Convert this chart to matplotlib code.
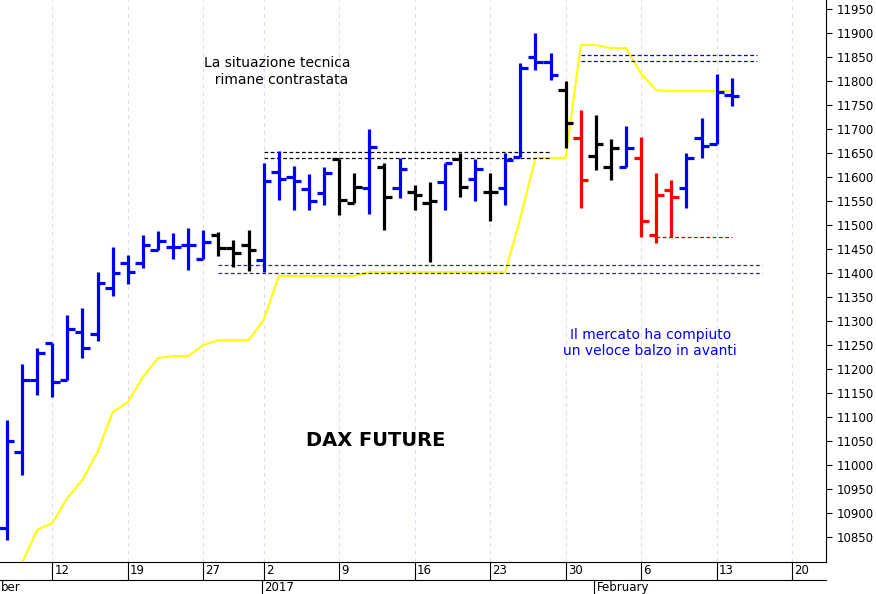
import matplotlib
matplotlib.use("Agg")
import matplotlib.pyplot as plt

opens  = [10869,11027,11177,11254,11177,11277,11273,11369,11421,11421,11448,11454,11458,11429,11479,11452,11458,
          11427,11610,11600,11575,11567,11637,11546,11577,11621,11577,11569,11546,11590,11637,11596,11569,11577,
          11642,11850,11840,11781,11681,11644,11621,11621,11640,11479,11573,11577,11681,11669,11771]
highs  = [11094,11210,11244,11254,11312,11327,11402,11454,11437,11479,11487,11483,11494,11490,11485,11469,11490,
          11629,11654,11623,11606,11621,11637,11608,11700,11629,11640,11583,11590,11629,11650,11637,11608,11650,
          11837,11900,11858,11800,11740,11729,11679,11706,11683,11608,11594,11650,11723,11815,11806]
lows   = [10844,10979,11146,11142,11177,11223,11258,11352,11377,11410,11448,11429,11406,11429,11435,11412,11404,
          11402,11552,11531,11531,11542,11521,11546,11523,11490,11556,11531,11423,11531,11558,11550,11508,11542,
          11642,11823,11802,11660,11535,11615,11594,11621,11475,11462,11475,11535,11640,11669,11748]
closes = [11050,11177,11233,11173,11283,11244,11379,11400,11402,11458,11467,11454,11458,11465,11452,11442,11448,
          11592,11596,11592,11550,11608,11552,11579,11662,11558,11617,11562,11550,11629,11579,11617,11569,11635,
          11827,11840,11812,11712,11594,11669,11660,11660,11508,11562,11558,11640,11665,11777,11769]
signal = list("bbbbbbbbbbbbbb" + "kkk" + "bbbbb" + "kk" + "b" + "k" + "b" + "kk" + "b" + "k" + "b" + "k" +
              "bbbb" + "k" + "r" + "kk" + "b" + "rrr" + "bbbb")
stop_idx = list(range(1, 49))
stop_val = [10796,10865,10879,10931,10969,11027,11110,11131,11183,11223,11227,11227,11250,11260,11260,11260,
            11302,11394,11394,11394,11394,11394,11394,11402,11402,11402,11402,11402,11402,11402,11402,11402,
            11402,11515,11640,11640,11640,11875,11875,11869,11869,11815,11781,11779,11779,11779,11779,11779]
tick_idx = [3, 8, 13, 17, 22, 27, 32, 37, 42, 47, 52]
tick_lab = ["12", "19", "27", "2", "9", "16", "23", "30", "6", "13", "20"]
month_idx = [-0.46, 17, 39]
month_lab = ["ber", "2017", "February"]
yticks = list(range(10850, 11951, 50))

cmap = {"b": "#0000ff", "k": "#000000", "r": "#ff0000"}
fig = plt.figure(figsize=(8.76, 5.94), dpi=100)
H = 594
ax = fig.add_axes([0, (594 - 562) / H, 826 / 876, 562 / H])
ax.set_xlim(-0.46, 54.24)
ax.set_ylim(10798, 11969)

for x in tick_idx:
    ax.axvline(x, color="#d8d8f4", lw=0.7, ls=(0, (4, 4)), zorder=0)

ax.plot(stop_idx, stop_val, color="#ffff00", lw=1.5, zorder=1)

for i, (o, h, l, c, s) in enumerate(zip(opens, highs, lows, closes, signal)):
    col = cmap[s]
    ax.plot([i, i], [l, h], color=col, lw=2.3, solid_capstyle="butt", zorder=3)
    ax.plot([i - 0.5, i], [o, o], color=col, lw=2.3, solid_capstyle="butt", zorder=3)
    ax.plot([i, i + 0.5], [c, c], color=col, lw=2.3, solid_capstyle="butt", zorder=3)

def hl(y, x0, x1, col):
    ax.plot([x0, x1], [y, y], color=col, lw=0.9, ls=(0, (3, 2)), zorder=2)

hl(11652, 17, 36, "#000000"); hl(11640, 17, 36, "#000000")
hl(11417, 14, 50, "#303060"); hl(11400, 14, 50, "#303060")
hl(11854, 38, 49.7, "#0000cc"); hl(11842, 38, 49.7, "#0000cc")
hl(11475, 43, 48, "#cc0000")

ax.yaxis.tick_right()
ax.set_yticks(yticks)
ax.set_yticklabels([str(v) for v in yticks], fontsize=8.5)
ax.tick_params(axis="y", length=4, direction="out")
ax.set_xticks([])
for sp in ["top", "left"]:
    ax.spines[sp].set_visible(False)

for x, t in zip(tick_idx, tick_lab):
    ax.plot([x, x], [-0.0, -0.032], transform=ax.get_xaxis_transform(), color="black", lw=0.8, clip_on=False)
    ax.text(x + 0.15, -0.016, t, transform=ax.get_xaxis_transform(), fontsize=8.5, va="center", ha="left")
ax.plot([-0.46, 54.24], [-0.032, -0.032], transform=ax.get_xaxis_transform(), color="black", lw=0.8, clip_on=False)
for x, t in zip(month_idx, month_lab):
    if x > 0:
        ax.plot([x - 0.1, x - 0.1], [-0.032, -0.06], transform=ax.get_xaxis_transform(), color="black", lw=0.8, clip_on=False)
    ax.text(x + 0.05, -0.046, t, transform=ax.get_xaxis_transform(), fontsize=8.5, va="center", ha="left")

ax.text(17.9, 11820, "La situazione tecnica\n  rimane contrastata", fontsize=10, ha="center", va="center")
ax.text(24.4, 11052, "DAX FUTURE", fontsize=14, fontweight="bold", ha="center", va="center")
ax.text(42.6, 11255, "Il mercato ha compiuto\nun veloce balzo in avanti", fontsize=10, color="#0000ff",
        ha="center", va="center")

fig.savefig("out.png", dpi=100)
